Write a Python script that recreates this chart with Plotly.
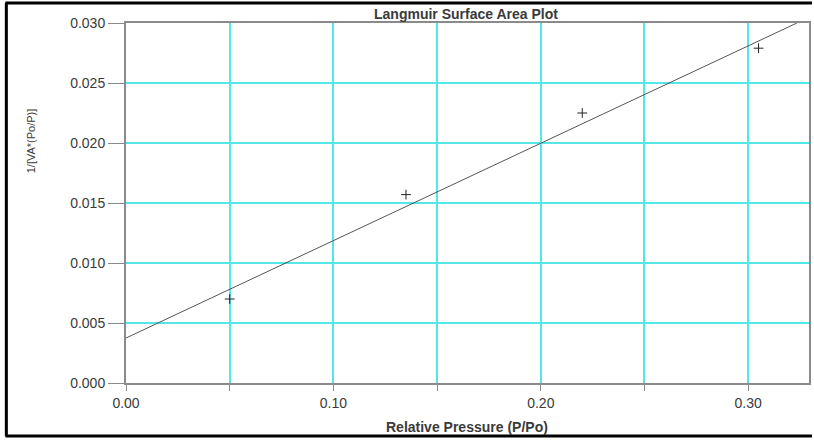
import plotly.graph_objects as go

# Data
rel_pressure = [0.05, 0.135, 0.22, 0.305]
inv_va = [0.0070, 0.0157, 0.0225, 0.0279]

# Fitted line endpoints (as drawn)
fit_x = [0.0, 0.3235]
fit_y = [0.00375, 0.0300]

x_tick_vals = [0.00, 0.05, 0.10, 0.15, 0.20, 0.25, 0.30]
x_tick_text = ["0.00", "", "0.10", "", "0.20", "", "0.30"]
y_tick_vals = [0.000, 0.005, 0.010, 0.015, 0.020, 0.025, 0.030]
y_tick_text = ["0.000", "0.005", "0.010", "0.015", "0.020", "0.025", "0.030"]

W, H = 814, 440
L, R, T, B = 126, 3, 23, 57
FONT = "Liberation Sans, Arial, sans-serif"
GRID = "#55e6e6"
AX = "#8a8a8a"
TXT = "#3a3a3a"

fig = go.Figure()
fig.add_trace(go.Scatter(x=fit_x, y=fit_y, mode="lines",
                         line=dict(color="#555555", width=1), hoverinfo="skip"))
fig.add_trace(go.Scatter(x=rel_pressure, y=inv_va, mode="markers",
                         marker=dict(symbol="cross-thin", size=7,
                                     line=dict(color="#222222", width=1),
                                     color="#222222")))

fig.update_layout(
    width=W, height=H,
    margin=dict(l=L, r=R, t=T, b=B),
    paper_bgcolor="white", plot_bgcolor="white",
    showlegend=False,
    font=dict(family=FONT, size=13, color=TXT),
    xaxis=dict(range=[0, 685 / 2080], tickvals=x_tick_vals, ticktext=x_tick_text,
               showgrid=True, gridcolor=GRID, gridwidth=1.5,
               showline=True, linecolor=AX, linewidth=2, mirror=True,
               ticks="outside", ticklen=6, tickcolor=AX, tickwidth=1,
               zeroline=False, tickfont=dict(size=14, color=TXT)),
    yaxis=dict(range=[0, 0.030], tickvals=y_tick_vals, ticktext=y_tick_text,
               showgrid=True, gridcolor=GRID, gridwidth=1.5,
               showline=True, linecolor=AX, linewidth=2, mirror=True,
               ticks="outside", ticklen=16, tickcolor=AX, tickwidth=1,
               zeroline=False, tickfont=dict(size=14, color=TXT)),
)

pw = W - L - R
ph = H - T - B
def px(xp):
    return (xp - L) / pw
def py(yp):
    return (H - B - yp) / ph

annotations = [
    dict(text="<b>Langmuir Surface Area Plot</b>", x=px(467), y=py(14),
         font=dict(size=14, color=TXT)),
    dict(text="<b>Relative Pressure (P/Po)</b>", x=px(468), y=py(427),
         font=dict(size=14, color=TXT)),
    dict(text="1/[VA*(Po/P)]", x=px(31), y=py(141), textangle=-90,
         font=dict(size=11, color=TXT)),
]
for a in annotations:
    a.update(xref="paper", yref="paper", showarrow=False,
             xanchor="center", yanchor="middle")
fig.update_layout(annotations=annotations)

# Outer black border (top, left, bottom)
border = dict(color="black", width=3)
fig.update_layout(shapes=[
    dict(type="line", xref="paper", yref="paper", x0=px(5), x1=px(814), y0=py(3), y1=py(3), line=border),
    dict(type="line", xref="paper", yref="paper", x0=px(6), x1=px(6), y0=py(3), y1=py(436), line=border),
    dict(type="line", xref="paper", yref="paper", x0=px(5), x1=px(814), y0=py(436), y1=py(436), line=border),
])

fig.write_html("out.html")
